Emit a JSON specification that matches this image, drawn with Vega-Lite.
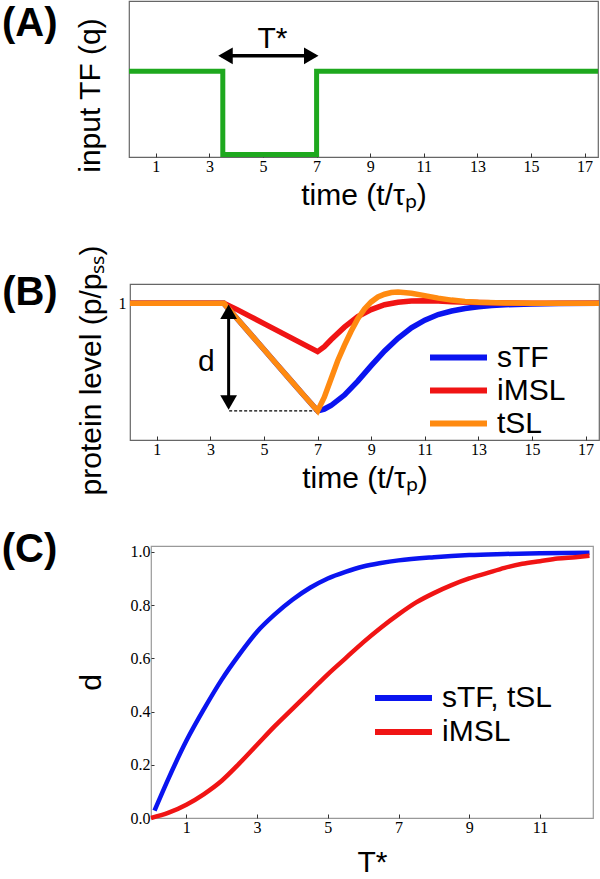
{
  "$schema": "https://vega.github.io/schema/vega-lite/v6.json",
  "padding": 0,
  "background": "white",
  "spacing": 33,
  "resolve": {"scale": {"color": "independent"}, "legend": {"color": "independent"}},
  "config": {
    "font": "Liberation Sans",
    "axis": {
      "labelFont": "Liberation Serif",
      "labelFontSize": 16,
      "labelColor": "black",
      "titleFont": "Liberation Sans",
      "titleFontSize": 30,
      "titleFontWeight": "normal",
      "titleColor": "black",
      "grid": false,
      "domain": false,
      "tickColor": "#333",
      "labelFlush": false,
      "labelOverlap": false,
      "labelBound": false
    },
    "legend": {
      "orient": "none",
      "title": null,
      "symbolType": "stroke",
      "symbolSize": 3249,
      "symbolStrokeWidth": 6,
      "labelFont": "Liberation Sans",
      "labelFontSize": 30,
      "labelColor": "black",
      "labelOffset": 7,
      "clipHeight": 33,
      "rowPadding": 0,
      "padding": 0
    }
  },
  "vconcat": [
    {
      "spacing": 33,
      "resolve": {"scale": {"color": "independent"}, "legend": {"color": "independent"}},
      "vconcat": [
        {
          "spacing": 0,
          "hconcat": [
            {"width": 1, "height": 30, "view": {"stroke": null}, "data": {"values": [{}]}, "mark": {"type": "text", "text": ""}},
            {
              "width": 469,
              "height": 156,
              "view": {"stroke": "#666", "strokeWidth": 1.2},
              "layer": [
                {
                  "data": {"values": [
                    {"t": 0, "q": 1}, {"t": 3.5, "q": 0}, {"t": 7, "q": 1}, {"t": 17.5, "q": 1}
                  ]},
                  "mark": {"type": "line", "interpolate": "step-after", "color": "#1ea81e", "strokeWidth": 5, "clip": false},
                  "encoding": {
                    "x": {"field": "t", "type": "quantitative", "scale": {"domain": [0, 17.5], "nice": false},
                      "axis": {"values": [1, 3, 5, 7, 9, 11, 13, 15, 17], "tickSize": -4, "labelPadding": 5, "title": "time (t/τₚ)", "titlePadding": 6}},
                    "y": {"field": "q", "type": "quantitative", "scale": {"domain": [-0.03, 1.844], "nice": false, "zero": false},
                      "axis": {"labels": false, "ticks": false, "title": "input TF (q)", "titlePadding": 24, "titleY": 94}}
                  }
                },
                {
                  "data": {"values": [{"a": 3.45, "b": 6.95, "y": 1.186}]},
                  "mark": {"type": "rule", "color": "black", "strokeWidth": 3.5},
                  "encoding": {"x": {"field": "a", "type": "quantitative"}, "x2": {"field": "b"}, "y": {"field": "y", "type": "quantitative"}}
                },
                {
                  "data": {"values": [{"x": 3.6, "y": 1.186, "s": "triangle-left"}, {"x": 6.8, "y": 1.186, "s": "triangle-right"}]},
                  "mark": {"type": "point", "filled": true, "color": "black", "opacity": 1, "size": 280},
                  "encoding": {"x": {"field": "x", "type": "quantitative"}, "y": {"field": "y", "type": "quantitative"},
                    "shape": {"field": "s", "type": "nominal", "scale": null, "legend": null}}
                },
                {
                  "data": {"values": [{"x": 5.35, "y": 1.39, "label": "T*"}]},
                  "mark": {"type": "text", "fontSize": 30, "font": "Liberation Sans", "color": "black", "baseline": "middle"},
                  "encoding": {"x": {"field": "x", "type": "quantitative"}, "y": {"field": "y", "type": "quantitative"}, "text": {"field": "label"}}
                },
                {
                  "data": {"values": [{"x": -4.74, "y": 1.424, "label": "(A)"}]},
                  "mark": {"type": "text", "fontSize": 40, "fontWeight": "bold", "font": "Liberation Sans", "color": "black", "align": "left", "baseline": "alphabetic", "clip": false},
                  "encoding": {"x": {"field": "x", "type": "quantitative"}, "y": {"field": "y", "type": "quantitative"}, "text": {"field": "label"}}
                }
              ]
            }
          ]
        },
        {
          "spacing": 0,
          "hconcat": [
            {"width": 1, "height": 30, "view": {"stroke": null}, "data": {"values": [{}]}, "mark": {"type": "text", "text": ""}},
            {
              "width": 469,
              "height": 156,
              "view": {"stroke": "#666", "strokeWidth": 1.2},
              "layer": [
                {
                  "data": {"values": [
                    {"t": 3.7, "y": 0.232}, {"t": 7, "y": 0.232}
                  ]},
                  "mark": {"type": "line", "color": "black", "strokeWidth": 1.2, "strokeDash": [3, 2]},
                  "encoding": {"x": {"field": "t", "type": "quantitative"}, "y": {"field": "y", "type": "quantitative"}}
                },
                {
                  "data": {"values": [
                    {"t": 0, "p": 1, "model": "sTF"}, {"t": 3.5, "p": 1, "model": "sTF"}, {"t": 4.0, "p": 0.89, "model": "sTF"}, {"t": 4.5, "p": 0.78, "model": "sTF"}, {"t": 5.0, "p": 0.67, "model": "sTF"}, {"t": 5.5, "p": 0.56, "model": "sTF"}, {"t": 6.0, "p": 0.45, "model": "sTF"}, {"t": 6.5, "p": 0.34, "model": "sTF"}, {"t": 7.0, "p": 0.232, "model": "sTF"}, {"t": 7.25, "p": 0.245, "model": "sTF"}, {"t": 7.5, "p": 0.27, "model": "sTF"}, {"t": 8.0, "p": 0.345, "model": "sTF"}, {"t": 8.5, "p": 0.445, "model": "sTF"}, {"t": 9.0, "p": 0.555, "model": "sTF"}, {"t": 9.5, "p": 0.66, "model": "sTF"}, {"t": 10.0, "p": 0.75, "model": "sTF"}, {"t": 10.5, "p": 0.825, "model": "sTF"}, {"t": 11.0, "p": 0.88, "model": "sTF"}, {"t": 11.5, "p": 0.92, "model": "sTF"}, {"t": 12.0, "p": 0.945, "model": "sTF"}, {"t": 12.5, "p": 0.963, "model": "sTF"}, {"t": 13.0, "p": 0.976, "model": "sTF"}, {"t": 13.5, "p": 0.984, "model": "sTF"}, {"t": 14.0, "p": 0.99, "model": "sTF"}, {"t": 15.0, "p": 0.995, "model": "sTF"}, {"t": 16.0, "p": 0.998, "model": "sTF"}, {"t": 17.5, "p": 1.0, "model": "sTF"},
                    {"t": 0, "p": 1, "model": "iMSL"}, {"t": 3.5, "p": 1, "model": "iMSL"}, {"t": 4.0, "p": 0.955, "model": "iMSL"}, {"t": 4.5, "p": 0.905, "model": "iMSL"}, {"t": 5.0, "p": 0.855, "model": "iMSL"}, {"t": 5.5, "p": 0.805, "model": "iMSL"}, {"t": 6.0, "p": 0.755, "model": "iMSL"}, {"t": 6.5, "p": 0.705, "model": "iMSL"}, {"t": 7.0, "p": 0.655, "model": "iMSL"}, {"t": 7.25, "p": 0.69, "model": "iMSL"}, {"t": 7.5, "p": 0.74, "model": "iMSL"}, {"t": 8.0, "p": 0.83, "model": "iMSL"}, {"t": 8.5, "p": 0.905, "model": "iMSL"}, {"t": 9.0, "p": 0.955, "model": "iMSL"}, {"t": 9.5, "p": 0.99, "model": "iMSL"}, {"t": 10.0, "p": 1.008, "model": "iMSL"}, {"t": 10.5, "p": 1.016, "model": "iMSL"}, {"t": 11.0, "p": 1.018, "model": "iMSL"}, {"t": 11.5, "p": 1.016, "model": "iMSL"}, {"t": 12.0, "p": 1.012, "model": "iMSL"}, {"t": 13.0, "p": 1.006, "model": "iMSL"}, {"t": 14.0, "p": 1.002, "model": "iMSL"}, {"t": 15.0, "p": 1.0, "model": "iMSL"}, {"t": 17.5, "p": 1.0, "model": "iMSL"},
                    {"t": 0, "p": 1, "model": "tSL"}, {"t": 3.5, "p": 1, "model": "tSL"}, {"t": 4.0, "p": 0.89, "model": "tSL"}, {"t": 4.5, "p": 0.78, "model": "tSL"}, {"t": 5.0, "p": 0.67, "model": "tSL"}, {"t": 5.5, "p": 0.56, "model": "tSL"}, {"t": 6.0, "p": 0.45, "model": "tSL"}, {"t": 6.5, "p": 0.34, "model": "tSL"}, {"t": 7.0, "p": 0.232, "model": "tSL"}, {"t": 7.25, "p": 0.33, "model": "tSL"}, {"t": 7.5, "p": 0.46, "model": "tSL"}, {"t": 7.75, "p": 0.59, "model": "tSL"}, {"t": 8.0, "p": 0.7, "model": "tSL"}, {"t": 8.25, "p": 0.8, "model": "tSL"}, {"t": 8.5, "p": 0.89, "model": "tSL"}, {"t": 8.75, "p": 0.96, "model": "tSL"}, {"t": 9.0, "p": 1.01, "model": "tSL"}, {"t": 9.25, "p": 1.045, "model": "tSL"}, {"t": 9.5, "p": 1.065, "model": "tSL"}, {"t": 9.75, "p": 1.077, "model": "tSL"}, {"t": 10.0, "p": 1.08, "model": "tSL"}, {"t": 10.5, "p": 1.072, "model": "tSL"}, {"t": 11.0, "p": 1.055, "model": "tSL"}, {"t": 11.5, "p": 1.037, "model": "tSL"}, {"t": 12.0, "p": 1.023, "model": "tSL"}, {"t": 12.5, "p": 1.013, "model": "tSL"}, {"t": 13.0, "p": 1.007, "model": "tSL"}, {"t": 14.0, "p": 1.002, "model": "tSL"}, {"t": 15.0, "p": 1.0, "model": "tSL"}, {"t": 17.5, "p": 1.0, "model": "tSL"}
                  ]},
                  "mark": {"type": "line", "strokeWidth": 5.5, "clip": true},
                  "encoding": {
                    "x": {"field": "t", "type": "quantitative", "scale": {"domain": [0, 17.5], "nice": false},
                      "axis": {"values": [1, 3, 5, 7, 9, 11, 13, 15, 17], "tickSize": -4, "labelPadding": 5, "title": "time (t/τₚ)", "titlePadding": 6}},
                    "y": {"field": "p", "type": "quantitative", "scale": {"domain": [0.024, 1.138], "nice": false, "zero": false},
                      "axis": {"values": [1], "format": ".0f", "ticks": false, "labelPadding": 4, "title": "protein level (p/pₛₛ)", "titlePadding": 12, "titleY": 86}},
                    "color": {"field": "model", "type": "nominal",
                      "scale": {"domain": ["sTF", "iMSL", "tSL"], "range": ["#0a14f0", "#f01414", "#ff8a10"]},
                      "legend": {"legendX": 427, "legendY": 57}}
                  }
                },
                {
                  "data": {"values": [{"t": 3.68, "a": 0.96, "b": 0.27}]},
                  "mark": {"type": "rule", "color": "black", "strokeWidth": 3},
                  "encoding": {"x": {"field": "t", "type": "quantitative"}, "y": {"field": "a", "type": "quantitative"}, "y2": {"field": "b"}}
                },
                {
                  "data": {"values": [{"t": 3.68, "y": 0.94, "s": "triangle-up"}, {"t": 3.68, "y": 0.292, "s": "triangle-down"}]},
                  "mark": {"type": "point", "filled": true, "color": "black", "opacity": 1, "size": 280},
                  "encoding": {"x": {"field": "t", "type": "quantitative"}, "y": {"field": "y", "type": "quantitative"},
                    "shape": {"field": "s", "type": "nominal", "scale": null, "legend": null}}
                },
                {
                  "data": {"values": [{"t": 2.85, "y": 0.58, "label": "d"}]},
                  "mark": {"type": "text", "fontSize": 30, "font": "Liberation Sans", "color": "black", "baseline": "middle"},
                  "encoding": {"x": {"field": "t", "type": "quantitative"}, "y": {"field": "y", "type": "quantitative"}, "text": {"field": "label"}}
                },
                {
                  "data": {"values": [{"t": -4.77, "y": 0.988, "label": "(B)"}]},
                  "mark": {"type": "text", "fontSize": 40, "fontWeight": "bold", "font": "Liberation Sans", "color": "black", "align": "left", "baseline": "alphabetic", "clip": false},
                  "encoding": {"x": {"field": "t", "type": "quantitative"}, "y": {"field": "y", "type": "quantitative"}, "text": {"field": "label"}}
                }
              ]
            }
          ]
        }
      ]
    },
    {
      "spacing": 0,
      "hconcat": [
        {"width": 1, "height": 30, "view": {"stroke": null}, "data": {"values": [{}]}, "mark": {"type": "text", "text": ""}},
        {
          "width": 442,
          "height": 272,
          "view": {"stroke": "#999", "strokeWidth": 1.2},
          "layer": [
            {
              "data": {"values": [
                {"T": 0.1, "d": 0.028, "model": "sTF, tSL"}, {"T": 0.5, "d": 0.15, "model": "sTF, tSL"}, {"T": 1.0, "d": 0.29, "model": "sTF, tSL"}, {"T": 1.5, "d": 0.41, "model": "sTF, tSL"}, {"T": 2.0, "d": 0.52, "model": "sTF, tSL"}, {"T": 2.5, "d": 0.615, "model": "sTF, tSL"}, {"T": 3.0, "d": 0.7, "model": "sTF, tSL"}, {"T": 3.5, "d": 0.765, "model": "sTF, tSL"}, {"T": 4.0, "d": 0.82, "model": "sTF, tSL"}, {"T": 4.5, "d": 0.865, "model": "sTF, tSL"}, {"T": 5.0, "d": 0.9, "model": "sTF, tSL"}, {"T": 5.5, "d": 0.925, "model": "sTF, tSL"}, {"T": 6.0, "d": 0.945, "model": "sTF, tSL"}, {"T": 6.5, "d": 0.958, "model": "sTF, tSL"}, {"T": 7.0, "d": 0.968, "model": "sTF, tSL"}, {"T": 8.0, "d": 0.98, "model": "sTF, tSL"}, {"T": 9.0, "d": 0.988, "model": "sTF, tSL"}, {"T": 10.0, "d": 0.992, "model": "sTF, tSL"}, {"T": 11.0, "d": 0.995, "model": "sTF, tSL"}, {"T": 12.4, "d": 0.997, "model": "sTF, tSL"},
                {"T": 0.0, "d": 0.0, "model": "iMSL"}, {"T": 0.5, "d": 0.02, "model": "iMSL"}, {"T": 1.0, "d": 0.05, "model": "iMSL"}, {"T": 1.5, "d": 0.09, "model": "iMSL"}, {"T": 2.0, "d": 0.14, "model": "iMSL"}, {"T": 2.5, "d": 0.205, "model": "iMSL"}, {"T": 3.0, "d": 0.275, "model": "iMSL"}, {"T": 3.5, "d": 0.345, "model": "iMSL"}, {"T": 4.0, "d": 0.41, "model": "iMSL"}, {"T": 4.5, "d": 0.475, "model": "iMSL"}, {"T": 5.0, "d": 0.54, "model": "iMSL"}, {"T": 5.5, "d": 0.6, "model": "iMSL"}, {"T": 6.0, "d": 0.66, "model": "iMSL"}, {"T": 6.5, "d": 0.715, "model": "iMSL"}, {"T": 7.0, "d": 0.765, "model": "iMSL"}, {"T": 7.5, "d": 0.81, "model": "iMSL"}, {"T": 8.0, "d": 0.845, "model": "iMSL"}, {"T": 8.5, "d": 0.875, "model": "iMSL"}, {"T": 9.0, "d": 0.9, "model": "iMSL"}, {"T": 9.5, "d": 0.92, "model": "iMSL"}, {"T": 10.0, "d": 0.94, "model": "iMSL"}, {"T": 10.5, "d": 0.955, "model": "iMSL"}, {"T": 11.0, "d": 0.965, "model": "iMSL"}, {"T": 11.5, "d": 0.975, "model": "iMSL"}, {"T": 12.0, "d": 0.98, "model": "iMSL"}, {"T": 12.4, "d": 0.985, "model": "iMSL"}
              ]},
              "mark": {"type": "line", "strokeWidth": 4.5, "interpolate": "monotone"},
              "encoding": {
                "x": {"field": "T", "type": "quantitative", "scale": {"domain": [0, 12.5], "nice": false},
                  "axis": {"values": [1, 3, 5, 7, 9, 11], "tickSize": -4, "labelPadding": 5, "title": "T*", "titlePadding": 12}},
                "y": {"field": "d", "type": "quantitative", "scale": {"domain": [0, 1.022], "nice": false},
                  "axis": {"values": [0, 0.05, 0.1, 0.15, 0.2, 0.25, 0.3, 0.35, 0.4, 0.45, 0.5, 0.55, 0.6, 0.65, 0.7, 0.75, 0.8, 0.85, 0.9, 0.95, 1.0],
                    "labelExpr": "round(datum.value*20) % 4 == 0 ? format(datum.value, '.1f') : ''",
                    "tickSize": -3, "labelPadding": 4, "title": "d", "titlePadding": 24}},
                "color": {"field": "model", "type": "nominal",
                  "scale": {"domain": ["sTF, tSL", "iMSL"], "range": ["#0a14f0", "#f01414"]},
                  "legend": {"legendX": 372, "legendY": 135, "clipHeight": 34}}
              }
            },
            {
              "data": {"values": [{"T": -4.22, "d": 0.962, "label": "(C)"}]},
              "mark": {"type": "text", "fontSize": 40, "fontWeight": "bold", "font": "Liberation Sans", "color": "black", "align": "left", "baseline": "alphabetic", "clip": false},
              "encoding": {"x": {"field": "T", "type": "quantitative"}, "y": {"field": "d", "type": "quantitative"}, "text": {"field": "label"}}
            }
          ]
        }
      ]
    }
  ]
}
